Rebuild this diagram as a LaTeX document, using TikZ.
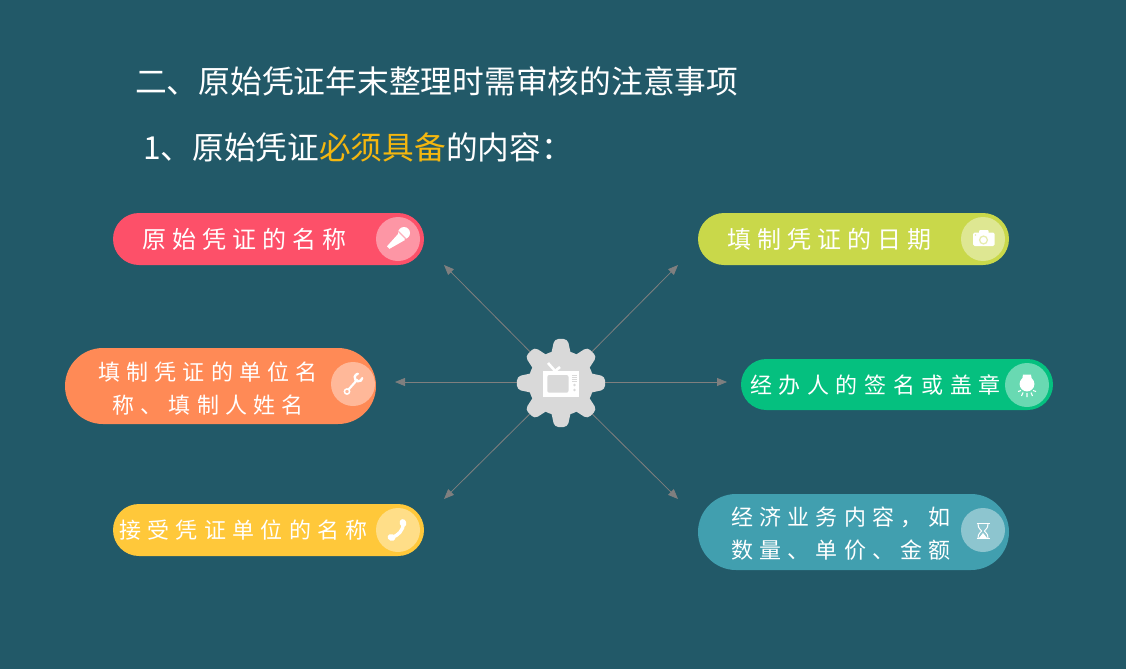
\documentclass[tikz,border=0pt]{standalone}
\usepackage{fontspec}
\setmainfont{Noto Sans CJK SC}
\usetikzlibrary{arrows.meta}
\definecolor{bgc}{HTML}{225968}
\definecolor{gearc}{HTML}{D9D9D9}
\definecolor{arrowc}{HTML}{7F7F7F}
\definecolor{hl}{HTML}{F5B70F}
\definecolor{pa}{HTML}{FD5069}
\definecolor{pb}{HTML}{C9D84A}
\definecolor{pc}{HTML}{FF8A56}
\definecolor{pd}{HTML}{05C07F}
\definecolor{pe}{HTML}{FFC83A}
\definecolor{pf}{HTML}{419FAF}
\tikzset{
  x=1pt,y=-1pt,
  pill/.style={rounded corners=#1,inner sep=0pt,draw=none},
  badge/.style={circle,fill=white,fill opacity=0.4,minimum size=44pt,inner sep=0pt},
  plabel/.style={text=white,align=center,inner sep=0pt,font=\fontsize{22}{33}\selectfont\addfontfeature{LetterSpace=28.5}},
  plabeld/.style={text=white,align=center,inner sep=0pt,font=\fontsize{22}{33}\selectfont\addfontfeature{LetterSpace=30}},
  plabelb/.style={text=white,align=center,inner sep=0pt,font=\fontsize{24}{33}\selectfont\addfontfeature{LetterSpace=25}},
  title/.style={text=white,anchor=west,inner sep=0pt},
  spoke/.style={draw=arrowc,line width=0.8pt,-{Triangle[length=10pt,width=8pt]}},
  iconl/.style={draw=white,line cap=round,fill=none},
}
\begin{document}
\begin{tikzpicture}
\fill[bgc] (0,0) rectangle (1126,669);
\useasboundingbox (0,0) rectangle (1126,669);

% titles
\node[title,font=\fontsize{31.75}{36}\selectfont] (t1) at (135,81) {二、原始凭证年末整理时需审核的注意事项};
\node[title,font=\fontsize{31.7}{36}\selectfont] (t2) at (143,147) {1、原始凭证\textcolor{hl}{必须具备}的内容：};

% connector ends
\coordinate (c) at (561,383);
\coordinate (ea) at (444,265);
\coordinate (eb) at (678,265);
\coordinate (ec) at (395,382);
\coordinate (ed) at (727,382);
\coordinate (ee) at (444,499);
\coordinate (ef) at (678,499);
\foreach \e in {ea,eb,ee,ef} \draw[spoke] (c) -- (\e);
\draw[spoke] (561,382) -- (ec);
\draw[spoke] (561,382) -- (ed);

% gear
\fill[gearc] (c) circle (32.5);
\foreach \a in {0,45,...,315}
  \fill[gearc,rounded corners=4pt] ([shift={(\a-22:28)}]c) -- ([shift={(\a-8.5:44.5)}]c) -- ([shift={(\a+8.5:44.5)}]c) -- ([shift={(\a+22:28)}]c) -- cycle;

% tv
\fill[white] (543,371) rectangle (578.5,396.5);
\fill[gearc,rounded corners=2pt] (547.3,375) rectangle (568.5,392.7);
\draw[white,line width=2.6pt] (548,363) -- (556,372);
\draw[white,line width=2.6pt] (560,367) -- (554,372);
\foreach \y in {375.5,377.5,379.5,381.5} \draw[gearc,line width=0.9pt] (572,\y) -- (577,\y);
\foreach \y in {385,390} \fill[gearc] (574.5,\y) circle (1.4);

% pills
\fill[pill=26pt,pa] (113,213) rectangle (424,265);
\fill[pill=26pt,pb] (698,213) rectangle (1009,265);
\fill[pill=38pt,pc] (65,348) rectangle (376,424);
\fill[pill=25.5pt,pd] (741,359) rectangle (1053,410);
\fill[pill=26pt,pe] (113,504) rectangle (424,556);
\fill[pill=38pt,pf] (698,494) rectangle (1009,570);

% labels
\node[plabelb] (la) at (244,239) {原始凭证的名称};
\node[plabelb] (lb) at (829,239) {填制凭证的日期};
\node[plabel] (lc) at (208,389) {填制凭证的单位名\\称、填制人姓名};
\node[plabeld] (ld) at (875.5,385) {经办人的签名或盖章};
\node[plabel] (le) at (243.5,530) {接受凭证单位的名称};
\node[plabel] (lf) at (841,534) {经济业务内容，如\\数量、单价、金额};

% badges
\node[badge] (ba) at (398,239) {};
\node[badge] (bb) at (983,239) {};
\node[badge] (bc) at (353,384) {};
\node[badge] (bd) at (1027,385) {};
\node[badge] (be) at (398,530) {};
\node[badge] (bf) at (983,530) {};

% microphone
\fill[white] (404,233) circle (6);
\fill[white] (398.5,233.5) -- (405,240) -- (389.5,248.8) -- (387,246.3) -- cycle;
\draw[pa!45!white,line width=1.2pt] (398.3,231.3) -- (405.8,238.8);

% camera
\fill[white,rounded corners=1.5pt] (973,232.5) rectangle (994.5,246);
\fill[white,rounded corners=1pt] (979,230) rectangle (988.5,234);
\draw[pb!45!white,line width=1.3pt] (983.5,240) circle (3.9);
\fill[pb!45!white] (975.5,235) circle (0.8);

% wrench
\draw[white,line width=2.2pt,line cap=round] (349,389) -- (357,380);
\draw[white,line width=1.5pt] (347,391.5) circle (2.6);
\draw[white,line width=2.4pt,line cap=round] (358.5,377.5) ++(10:3.8) arc (10:260:3.8);

% bulb
\fill[white] (1027,384) circle (7.4);
\fill[white] (1023,374.5) -- (1031,374.5) -- (1032,381) -- (1022,381) -- cycle;
\draw[white,line width=1.1pt] (1018,391.5) -- (1021,390.5) (1021.5,396) -- (1023,392.5) (1027,397) -- (1027,393) (1032.5,396) -- (1031,392.5) (1036,391.5) -- (1033,390.5);

% phone
\draw[iconl,line width=3.4pt,line join=round] (403.5,523) .. controls (403.5,530) and (398,536) .. (391.5,537.5);
\fill[white,rotate around={15:(403,523)}] (403,523) ellipse (3.3 and 4);
\fill[white,rotate around={70:(391.5,537.5)}] (391.5,537.5) ellipse (3.3 and 4);

% hourglass
\draw[white,line width=1.6pt] (976.5,523.5) -- (989.5,523.5) (976.5,538.5) -- (989.5,538.5);
\draw[white,line width=1pt] (978,524) .. controls (978,529) and (981.5,530) .. (981.5,531) .. controls (981.5,532) and (978,533) .. (978,538) (988,524) .. controls (988,529) and (984.5,530) .. (984.5,531) .. controls (984.5,532) and (988,533) .. (988,538);
\fill[white] (983,533) -- (987,538) -- (979,538) -- cycle;
\end{tikzpicture}
\end{document}
